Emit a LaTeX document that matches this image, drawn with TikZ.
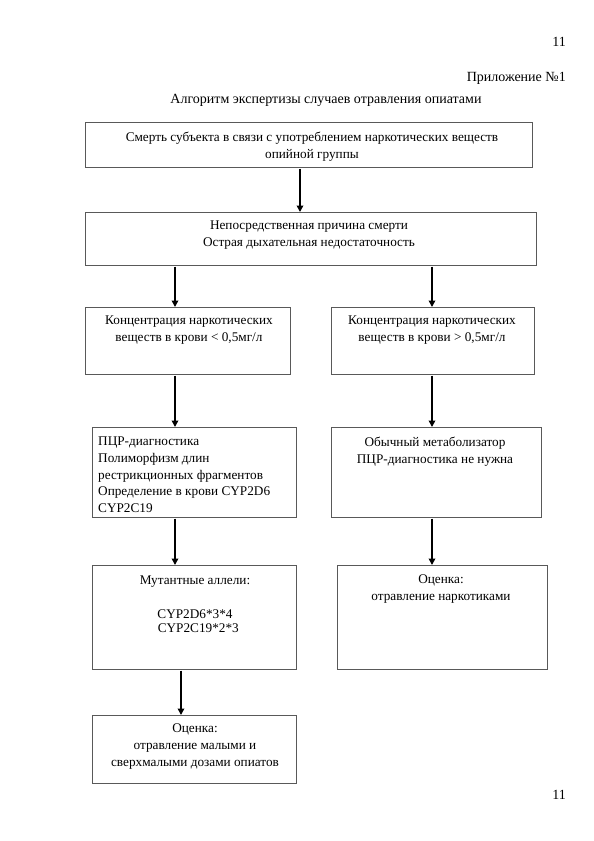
\documentclass[tikz,border=0pt]{standalone}
\usepackage{fontspec}
\setmainfont{Liberation Serif}
\usetikzlibrary{arrows.meta}
\begin{document}
\begin{tikzpicture}[x=1pt,y=-1pt,
  box/.style={draw=black!65, line width=0.7pt, anchor=north west, inner sep=0pt},
  txt/.style={anchor=north, inner sep=0pt, align=center, font=\fontsize{13.25}{16.7}\selectfont},
  htxt/.style={anchor=north, inner sep=0pt, align=center, font=\fontsize{14}{17}\selectfont},
  ltxt/.style={anchor=north west, inner sep=0pt, align=left, font=\fontsize{13.25}{16.6}\selectfont},
  arr/.style={line width=2pt, -{Triangle[width=6.5pt,length=6.5pt]}, shorten <=1pt}]
\useasboundingbox (0,0) rectangle (594,841);
\fill[white] (0,0) rectangle (594,841);
% page texts
\node[htxt, anchor=north east] (pg1) at (566,37) {11};
\node[htxt, anchor=north east] (app) at (566,72) {Приложение №1};
\node[htxt] (title) at (326,94) {Алгоритм экспертизы случаев отравления опиатами};
\node[htxt, anchor=north east] (pg2) at (566,790) {11};
% boxes
\node[box, minimum width=447pt, minimum height=45pt] (b1) at (85,122) {};
\node[box, minimum width=451pt, minimum height=53pt] (b2) at (85,212) {};
\node[box, minimum width=205pt, minimum height=67pt] (b3l) at (85,307) {};
\node[box, minimum width=203pt, minimum height=67pt] (b3r) at (331,307) {};
\node[box, minimum width=204pt, minimum height=90pt] (b4l) at (92,427) {};
\node[box, minimum width=210pt, minimum height=90pt] (b4r) at (331,427) {};
\node[box, minimum width=204pt, minimum height=104pt] (b5l) at (92,565) {};
\node[box, minimum width=210pt, minimum height=104pt] (b5r) at (337,565) {};
\node[box, minimum width=204pt, minimum height=68pt] (b6) at (92,715) {};
% texts
\node[txt] (t1) at (312,132) {Смерть субъекта в связи с употреблением наркотических веществ\\опийной группы};
\node[txt] (t2) at (309,221) {Непосредственная причина смерти\\Острая дыхательная недостаточность};
\node[txt] (t3l) at (189,316) {Концентрация наркотических\\веществ в крови < 0,5мг/л};
\node[txt] (t3r) at (432,316) {Концентрация наркотических\\веществ в крови > 0,5мг/л};
\node[ltxt] (t4l) at (98,437) {ПЦР-диагностика\\Полиморфизм длин\\рестрикционных фрагментов\\Определение в крови CYP2D6\\CYP2C19};
\node[txt] (t4r) at (435,437) {Обычный метаболизатор\\ПЦР-диагностика не нужна};
\node[txt] (t5l) at (195,576) {Мутантные аллели:\\[17pt]CYP2D6*3*4\\[-3pt]\ \ CYP2C19*2*3};
\node[txt] (t5r) at (441,575) {Оценка:\\отравление наркотиками};
\node[txt] (t6) at (195,724) {Оценка:\\отравление малыми и\\сверхмалыми дозами опиатов};
% arrow columns
\coordinate (c0) at (300,0);
\coordinate (cl) at (175,0);
\coordinate (cr) at (432,0);
\coordinate (c6) at (181,0);
\draw[arr] (b1.south -| c0) -- (b2.north -| c0);
\draw[arr] (b2.south -| cl) -- (b3l.north -| cl);
\draw[arr] (b2.south -| cr) -- (b3r.north -| cr);
\draw[arr] (b3l.south -| cl) -- (b4l.north -| cl);
\draw[arr] (b3r.south -| cr) -- (b4r.north -| cr);
\draw[arr] (b4l.south -| cl) -- (b5l.north -| cl);
\draw[arr] (b4r.south -| cr) -- (b5r.north -| cr);
\draw[arr] (b5l.south -| c6) -- (b6.north -| c6);
\end{tikzpicture}
\end{document}
